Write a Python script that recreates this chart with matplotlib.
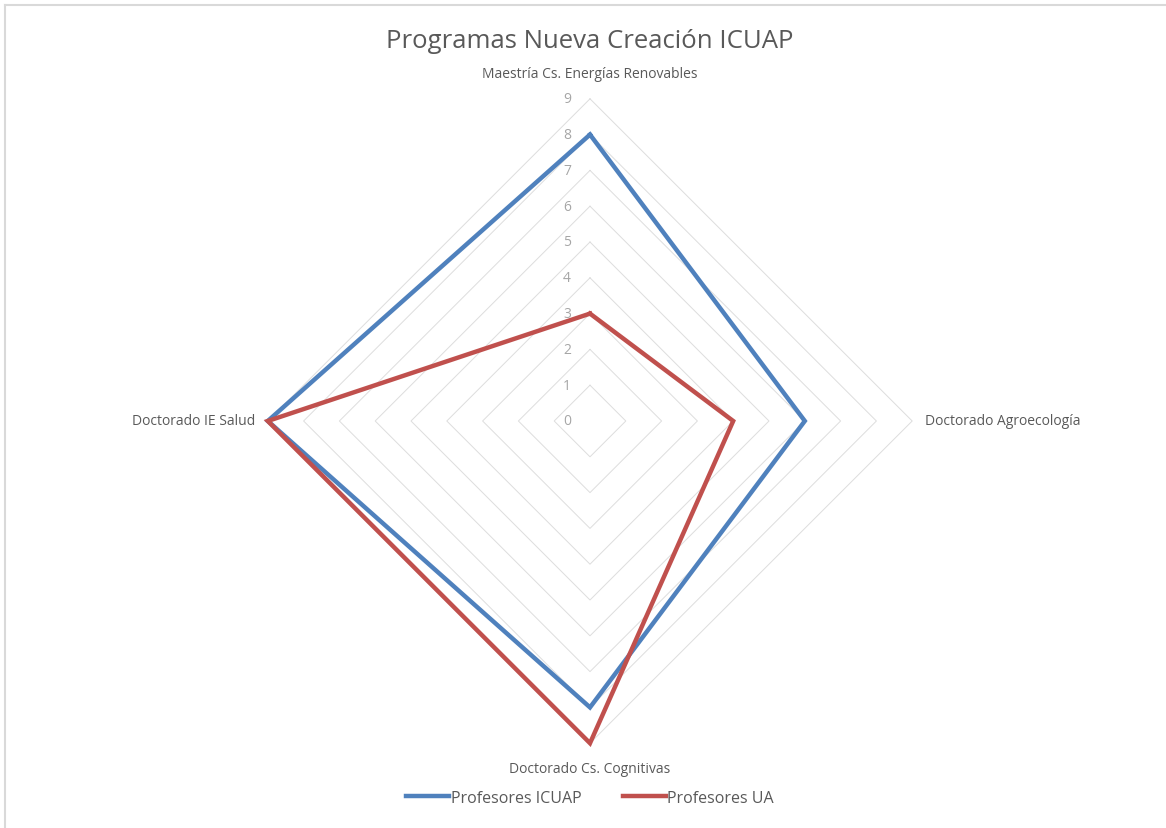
import numpy as np
import matplotlib.pyplot as plt
from matplotlib.lines import Line2D

categories = ["Maestría Cs. Energías Renovables", "Doctorado Agroecología",
              "Doctorado Cs. Cognitivas", "Doctorado IE Salud"]
icuap = [8, 6, 8, 9]
ua = [3, 4, 9, 9]
series_names = ["Profesores ICUAP", "Profesores UA"]
ticks = list(range(0, 10))

plt.rcParams['font.family'] = ['Open Sans', 'DejaVu Sans']

# angles: top, right, bottom, left
angles = np.pi / 2 - np.arange(len(categories)) * 2 * np.pi / len(categories)


def to_xy(vals):
    vals = np.asarray(vals, dtype=float)
    x = vals * np.cos(angles)
    y = vals * np.sin(angles)
    return np.append(x, x[0]), np.append(y, y[0])


fig = plt.figure(figsize=(11.66, 8.29), dpi=100)
ax = fig.add_axes([0, 0, 1, 1])
unit = 35.8
cx, cy = 590, 422
ax.set_xlim(-cx / unit, (1166 - cx) / unit)
ax.set_ylim(-(829 - cy) / unit, cy / unit)
ax.set_aspect('equal')
ax.axis('off')

# grid rings
for t in ticks[1:]:
    gx, gy = to_xy([t] * len(categories))
    ax.plot(gx, gy, color='#DDDDDD', lw=0.7, zorder=1)

# tick labels
for t in ticks:
    ax.text(-0.64, t, str(t), ha='center', va='center', fontsize=10,
            color='#A6A6A6', zorder=2)

colors = ['#4F81BD', '#C0504D']
for vals, c in zip([icuap, ua], colors):
    px, py = to_xy(vals)
    ax.plot(px, py, color=c, lw=3.2, solid_joinstyle='miter', zorder=3)

# category labels
r_lab = max(ticks)
ax.text(0, r_lab + 0.72, categories[0], ha='center', va='center', fontsize=10, color='#595959')
ax.text(r_lab + 0.35, 0, categories[1], ha='left', va='center', fontsize=10, color='#595959')
ax.text(0, -r_lab - 0.7, categories[2], ha='center', va='center', fontsize=10, color='#595959')
ax.text(-r_lab - 0.35, 0, categories[3], ha='right', va='center', fontsize=10, color='#595959')

fig.text(cx / 1166, 1 - 42 / 829, "Programas Nueva Creación ICUAP", ha='center', va='center',
         fontsize=18.5, color='#595959')

handles = [Line2D([0], [0], color=c, lw=3.2) for c in colors]
fig.legend(handles, series_names, loc='center', bbox_to_anchor=(cx / 1166, 1 - 799 / 829),
           ncol=2, frameon=False, fontsize=11.5, labelcolor='#595959',
           handlelength=2.7, handletextpad=0.1, columnspacing=2.6)

# chart border
fig.add_artist(Line2D([5 / 1166, 5 / 1166], [0, 1 - 6 / 829], color='#D9D9D9', lw=1.5,
                      transform=fig.transFigure))
fig.add_artist(Line2D([5 / 1166, 1 - 0.5 / 1166], [1 - 6 / 829, 1 - 6 / 829], color='#D9D9D9', lw=1.5,
                      transform=fig.transFigure))

fig.savefig('out.png', dpi=100)
